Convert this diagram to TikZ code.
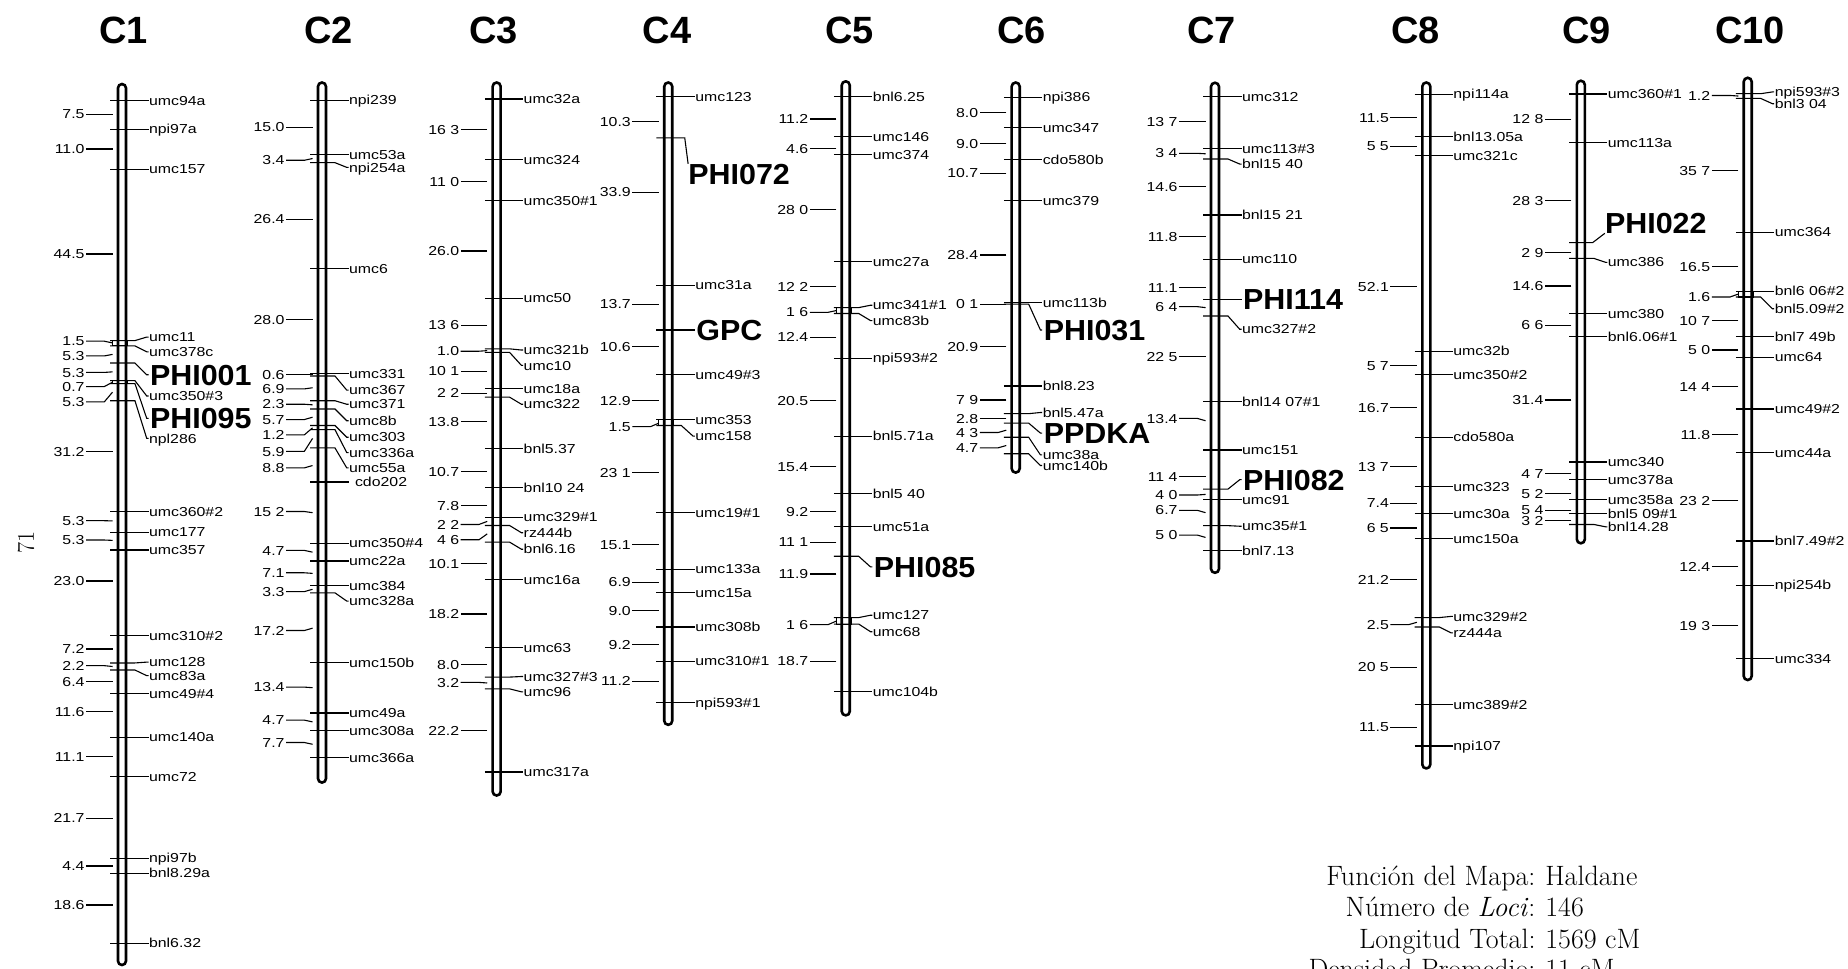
\documentclass[tikz,border=0pt]{standalone}
\usepackage{fontspec}
\newfontfamily\lsans[FakeStretch=1.22]{Liberation Sans}
\newfontfamily\bsans[FakeStretch=1.05]{Liberation Sans}
\newfontfamily\tsans{Liberation Sans}
\newcount\nc
\newcommand\mk[4][lab]{\global\advance\nc by 1\relax
  \draw[tk] ({\xc-10},#2) coordinate (t\the\nc) -- ({\xc+11},#2) -- ({\xc+21},#3) -- ({\xc+22.5},#3) node[#1,anchor=west] (m\the\nc) {#4};}
\newcommand\dd[3]{\global\advance\nc by 1\relax
  \draw[tk] ({\xc-8},#2) coordinate (b\the\nc) -- ({\xc-15},#1) -- ({\xc-30.5},#1) node[num,anchor=east] (d\the\nc) {#3};}
\newcommand\bx[2]{\draw[tk] ({\xc-8},#1) rectangle ({\xc+4.5},#2);}
\newcommand\chrom[6]{\def\xc{#2}%
  \draw[bar] ({\xc-3.4},#3) rectangle ({\xc+3.4},#4);
  \node[ttl,anchor=base] (#1) at (#5,37) {#6};}
\begin{document}
\begin{tikzpicture}[x=1.1786pt,y=-1.1786pt,
  bar/.style={draw=black,line width=2.6pt,fill=white,rounded corners=4pt},
  tk/.style={draw=black,line width=1.1pt},
  lab/.style={font=\lsans\fontsize{13}{14}\selectfont,inner sep=0pt,text height=9.3pt,text depth=0pt},
  num/.style={font=\lsans\fontsize{13}{14}\selectfont,inner ysep=0pt,inner xsep=1pt,text height=9.3pt,text depth=0pt},
  big/.style={font=\bsans\bfseries\fontsize{29}{30}\selectfont,inner sep=0pt,text height=20.8pt,text depth=0pt,xshift=1pt},
  ttl/.style={font=\tsans\bfseries\fontsize{38}{40}\selectfont,inner sep=0pt},
  ft/.style={font=\rmfamily\addfontfeatures{FakeStretch=1.1}\fontsize{28}{31}\selectfont,inner sep=0pt}]
\useasboundingbox (0,0) rectangle (1568,822);
\clip (0,0) rectangle (1568,822);
\fill[white] (0,0) rectangle (1568,822);

% ---------------- C1
\chrom{c1}{103.5}{71.3}{818.8}{105}{C1}
\mk{85.4}{85.4}{umc94a}
\dd{97}{97}{7.5}
\mk{109.5}{109.5}{npi97a}
\dd{126.4}{126.4}{11.0}
\mk{143.6}{143.6}{umc157}
\dd{215.5}{215.5}{44.5}
\bx{289}{293.5}
\mk{289}{286}{umc11}
\dd{289.5}{291}{1.5}
\mk{293.5}{298.5}{umc378c}
\dd{302}{300.7}{5.3}
\mk[big]{308}{318}{PHI001}
\dd{316}{315.5}{5.3}
\bx{323}{325.5}
\mk{323}{336}{umc350\#3}
\dd{328}{324.3}{0.7}
\mk[big]{325.5}{355}{PHI095}
\dd{341}{332.7}{5.3}
\mk{340}{372}{npl286}
\dd{383}{383}{31.2}
\mk{434.2}{434.2}{umc360\#2}
\dd{441.8}{442}{5.3}
\mk{451.6}{451.6}{umc177}
\dd{458.2}{458.5}{5.3}
\mk{466.7}{466.7}{umc357}
\dd{493}{493}{23.0}
\mk{539.4}{539.4}{umc310\#2}
\dd{550.7}{550.7}{7.2}
\mk{562.5}{561.8}{umc128}
\dd{564.8}{565.5}{2.2}
\mk{568.5}{573.3}{umc83a}
\dd{578.4}{578.4}{6.4}
\mk{588.8}{588.8}{umc49\#4}
\dd{603.9}{603.9}{11.6}
\mk{625.6}{625.6}{umc140a}
\dd{642}{642}{11.1}
\mk{659}{659}{umc72}
\dd{694.3}{694.3}{21.7}
\mk{728.2}{728.2}{npi97b}
\dd{734.8}{734.8}{4.4}
\mk{741}{741}{bnl8.29a}
\dd{767.9}{767.9}{18.6}
\mk{800.4}{800.4}{bnl6.32}

% ---------------- C2
\chrom{c2}{273.2}{70}{664}{279}{C2}
\mk{85}{85}{npi239}
\dd{108}{108}{15.0}
\mk{131}{131}{umc53a}
\dd{136}{134.5}{3.4}
\mk{138}{142}{npi254a}
\dd{186}{186}{26.4}
\mk{228}{228}{umc6}
\dd{271}{271}{28.0}
\dd{318}{318}{0.6}
\mk{317}{317}{umc331}
\mk{319}{331}{umc367}
\dd{330}{329}{6.9}
\mk{340}{343}{umc371}
\dd{343}{343.5}{2.3}
\mk{347}{357}{umc8b}
\dd{356}{354}{5.7}
\mk{361}{371}{umc303}
\dd{369}{363}{1.2}
\mk{364.5}{384}{umc336a}
\dd{383}{372}{5.9}
\mk{380}{397}{umc55a}
\dd{397}{395}{8.8}
\mk[lab,xshift=6pt]{409}{409}{cdo202}
\dd{434}{435}{15 2}
\mk{461}{461}{umc350\#4}
\dd{467}{468.5}{4.7}
\mk{476}{476}{umc22a}
\dd{486}{486.5}{7.1}
\mk{497}{497}{umc384}
\dd{502}{500}{3.3}
\mk{503}{510}{umc328a}
\dd{535}{533}{17.2}
\mk{562}{562}{umc150b}
\dd{583}{583.5}{13.4}
\mk{605}{605}{umc49a}
\dd{611}{612.5}{4.7}
\mk{620}{620}{umc308a}
\dd{630}{631.5}{7.7}
\mk{643}{643}{umc366a}

% ---------------- C3
\chrom{c3}{421.4}{70}{675}{419}{C3}
\mk{84}{84}{umc32a}
\dd{110}{110}{16 3}
\mk{135.4}{135.4}{umc324}
\dd{154}{154}{11 0}
\mk{170}{170}{umc350\#1}
\dd{213}{213}{26.0}
\mk{253}{253}{umc50}
\dd{276}{276}{13 6}
\mk{296}{297}{umc321b}
\dd{298}{297.5}{1.0}
\mk{299}{310}{umc10}
\dd{315}{315}{10 1}
\mk{330}{330}{umc18a}
\dd{333.5}{333.5}{2 2}
\mk{337}{343}{umc322}
\dd{358}{358}{13.8}
\mk{380.6}{380.6}{bnl5.37}
\dd{400}{400}{10.7}
\mk{414}{414}{bnl10 24}
\dd{429}{429}{7.8}
\mk{438.9}{438.9}{umc329\#1}
\dd{445}{442.4}{2 2}
\mk{445.9}{452}{rz444b}
\dd{458}{453}{4 6}
\mk{460}{466}{bnl6.16}
\dd{478}{478}{10.1}
\mk{492}{492}{umc16a}
\dd{521}{521}{18.2}
\mk{549.7}{549.7}{umc63}
\dd{564}{564}{8.0}
\mk{574.5}{574}{umc327\#3}
\dd{579}{579.5}{3.2}
\mk{584.5}{587}{umc96}
\dd{620}{620}{22.2}
\mk{655}{655}{umc317a}

% ---------------- C4
\chrom{c4}{567}{70}{615}{566}{C4}
\mk{82}{82}{umc123}
\dd{103}{103}{10.3}
\node[big,anchor=base west] (phi072) at ({\xc+16},156.8) {PHI072};
\draw[tk] ({\xc-10},117) coordinate (tphi072) -- ({\xc+14},117) -- (phi072.north west);
\dd{163}{163}{33.9}
\mk{242}{242}{umc31a}
\dd{258}{258}{13.7}
\mk[big]{280}{280}{GPC}
\dd{294}{294}{10.6}
\mk{318}{318}{umc49\#3}
\dd{340}{340}{12.9}
\bx{356}{361}
\mk{356}{356}{umc353}
\dd{362}{359}{1.5}
\mk{361}{370}{umc158}
\dd{401}{401}{23 1}
\mk{435}{435}{umc19\#1}
\dd{462}{462}{15.1}
\mk{483}{483}{umc133a}
\dd{494}{494}{6.9}
\mk{503}{503}{umc15a}
\dd{518}{518}{9.0}
\mk{532}{532}{umc308b}
\dd{547}{547}{9.2}
\mk{561}{561}{umc310\#1}
\dd{578}{578}{11.2}
\mk{596}{596}{npi593\#1}

% ---------------- C5
\chrom{c5}{717.6}{69}{607}{721}{C5}
\mk{82}{82}{bnl6.25}
\dd{101}{101}{11.2}
\mk{116}{116}{umc146}
\dd{126}{126}{4.6}
\mk{131}{131}{umc374}
\dd{178}{178}{28 0}
\mk{222}{222}{umc27a}
\dd{243}{243}{12 2}
\bx{261}{266}
\mk{261}{259}{umc341\#1}
\dd{265}{263.5}{1 6}
\mk{266}{272}{umc83b}
\dd{286}{286}{12.4}
\mk{304}{304}{npi593\#2}
\dd{340}{340}{20.5}
\mk{370}{370}{bnl5.71a}
\dd{396}{396}{15.4}
\mk{419}{419}{bnl5 40}
\dd{434}{434}{9.2}
\mk{447}{447}{umc51a}
\dd{460}{460}{11 1}
\mk[big]{472}{481}{PHI085}
\dd{487}{487}{11.9}
\bx{524}{529.5}
\mk{524}{522}{umc127}
\dd{530}{527}{1 6}
\mk{529.5}{536}{umc68}
\dd{561}{561}{18.7}
\mk{587}{587}{umc104b}

% ---------------- C6
\chrom{c6}{861.8}{70}{401}{867}{C6}
\mk{82.6}{82.6}{npi386}
\dd{95.5}{95.5}{8.0}
\mk{108.5}{108.5}{umc347}
\dd{122}{122}{9.0}
\mk{135.5}{135.5}{cdo580b}
\dd{147}{147}{10.7}
\mk{170}{170}{umc379}
\dd{216.4}{216.4}{28.4}
\mk{257}{257}{umc113b}
\dd{258}{258}{0 1}
\mk[big]{258}{280}{PHI031}
\dd{294}{294}{20.9}
\mk{327.5}{327.5}{bnl8.23}
\dd{339.4}{339.4}{7 9}
\mk{351}{350}{bnl5.47a}
\dd{355}{355}{2.8}
\mk[big]{359}{367.5}{PPDKA}
\dd{367}{365}{4 3}
\mk{371}{386}{umc38a}
\dd{380}{378}{4.7}
\mk{385}{395}{umc140b}

% ---------------- C7
\chrom{c7}{1030.9}{70.2}{486}{1028}{C7}
\mk{82}{82}{umc312}
\dd{103.2}{103.2}{13 7}
\mk{125.9}{125.9}{umc113\#3}
\dd{130.1}{130.5}{3 4}
\mk{134.9}{139.2}{bnl15 40}
\dd{158.4}{158.4}{14.6}
\mk{182.4}{182.4}{bnl15 21}
\dd{200.8}{200.8}{11.8}
\mk{220}{220}{umc110}
\dd{244.1}{244.1}{11.1}
\mk[big]{254}{254}{PHI114}
\dd{260.2}{261}{6 4}
\mk{268.1}{279.4}{umc327\#2}
\dd{302.6}{302.6}{22 5}
\mk{340.8}{340.8}{bnl14 07\#1}
\dd{355}{357}{13.4}
\mk{381.8}{381.8}{umc151}
\dd{404.4}{404.4}{11 4}
\mk[big]{415}{407}{PHI082}
\dd{420}{419.5}{4 0}
\mk{424}{424}{umc91}
\dd{433}{435}{6.7}
\mk{446}{446.5}{umc35\#1}
\dd{454}{456}{5 0}
\mk{467}{467}{bnl7.13}

% ---------------- C8
\chrom{c8}{1210.2}{70}{652}{1201}{C8}
\mk{80}{80}{npi114a}
\dd{100}{100}{11.5}
\mk{116}{116}{bnl13.05a}
\dd{124}{124}{5 5}
\mk{132}{132}{umc321c}
\dd{243}{243}{52.1}
\mk{298}{298}{umc32b}
\dd{310}{310}{5 7}
\mk{318}{318}{umc350\#2}
\dd{346}{346}{16.7}
\mk{371}{371}{cdo580a}
\dd{396}{396}{13 7}
\mk{413}{413}{umc323}
\dd{427}{427}{7.4}
\mk{436}{436}{umc30a}
\dd{448}{448}{6 5}
\mk{457}{457}{umc150a}
\dd{492}{492}{21.2}
\mk{524}{523}{umc329\#2}
\dd{530}{528}{2.5}
\mk{532}{537}{rz444a}
\dd{566}{566}{20 5}
\mk{598}{598}{umc389\#2}
\dd{617}{617}{11.5}
\mk{633}{633}{npi107}

% ---------------- C9
\chrom{c9}{1341.3}{68.5}{461}{1346}{C9}
\mk{79.8}{79.8}{umc360\#1}
\dd{101.2}{101.2}{12 8}
\mk{121}{121}{umc113a}
\dd{170.3}{170.3}{28 3}
\node[big,anchor=base west] (phi022) at ({\xc+19.5},197.8) {PHI022};
\draw[tk] ({\xc-10},205.9) coordinate (tphi022) -- ({\xc+10},205.9) -- (phi022.south west);
\dd{214.4}{214.4}{2 9}
\mk{219.2}{222.6}{umc386}
\dd{242.7}{242.7}{14.6}
\mk{265.9}{265.9}{umc380}
\dd{275.8}{275.8}{6 6}
\mk{285.7}{285.7}{bnl6.06\#1}
\dd{339.4}{339.4}{31.4}
\mk{392}{392}{umc340}
\dd{402}{402}{4 7}
\mk{407}{407}{umc378a}
\dd{419}{419}{5 2}
\mk{424}{424}{umc358a}
\dd{433}{433}{5 4}
\mk{436}{436}{bnl5 09\#1}
\dd{442}{442}{3 2}
\mk{445}{447}{bnl14.28}

% ---------------- C10
\chrom{c10}{1482.9}{66}{577}{1485}{C10}
\mk{79.5}{78}{npi593\#3}
\dd{81}{81.5}{1.2}
\mk{83.5}{88}{bnl3 04}
\dd{145}{145}{35 7}
\mk{197}{197}{umc364}
\dd{226}{226}{16.5}
\bx{247}{252}
\mk{247}{247}{bnl6 06\#2}
\dd{252}{249.5}{1.6}
\mk{252}{262}{bnl5.09\#2}
\dd{272}{272}{10 7}
\mk{285.5}{285.5}{bnl7 49b}
\dd{297}{297}{5 0}
\mk{303}{303}{umc64}
\dd{328}{328}{14 4}
\mk{347}{347}{umc49\#2}
\dd{369}{369}{11.8}
\mk{384}{384}{umc44a}
\dd{425}{425}{23 2}
\mk{459}{459}{bnl7.49\#2}
\dd{481}{481}{12.4}
\mk{496.5}{496.5}{npi254b}
\dd{531}{531}{19 3}
\mk{559}{559}{umc334}

% ---------------- page number and legend
\node[font=\rmfamily\fontsize{24}{24}\selectfont,rotate=90,inner sep=0pt] (pg) at (22,460) {71};
\node[ft,anchor=base east] (k1) at (1303,751.5) {Función del Mapa:};
\node[ft,anchor=base west] (v1) at (1311,751.5) {Haldane};
\node[ft,anchor=base east] (k2) at (1303,777.5) {Número de \textit{Loci}:};
\node[ft,anchor=base west] (v2) at (1311,777.5) {146};
\node[ft,anchor=base east] (k3) at (1303,804.5) {Longitud Total:};
\node[ft,anchor=base west] (v3) at (1311,804.5) {1569 cM};
\node[ft,anchor=base east] (k4) at (1303,830.5) {Densidad Promedio:};
\node[ft,anchor=base west] (v4) at (1311,830.5) {11 cM};
\end{tikzpicture}
\end{document}
